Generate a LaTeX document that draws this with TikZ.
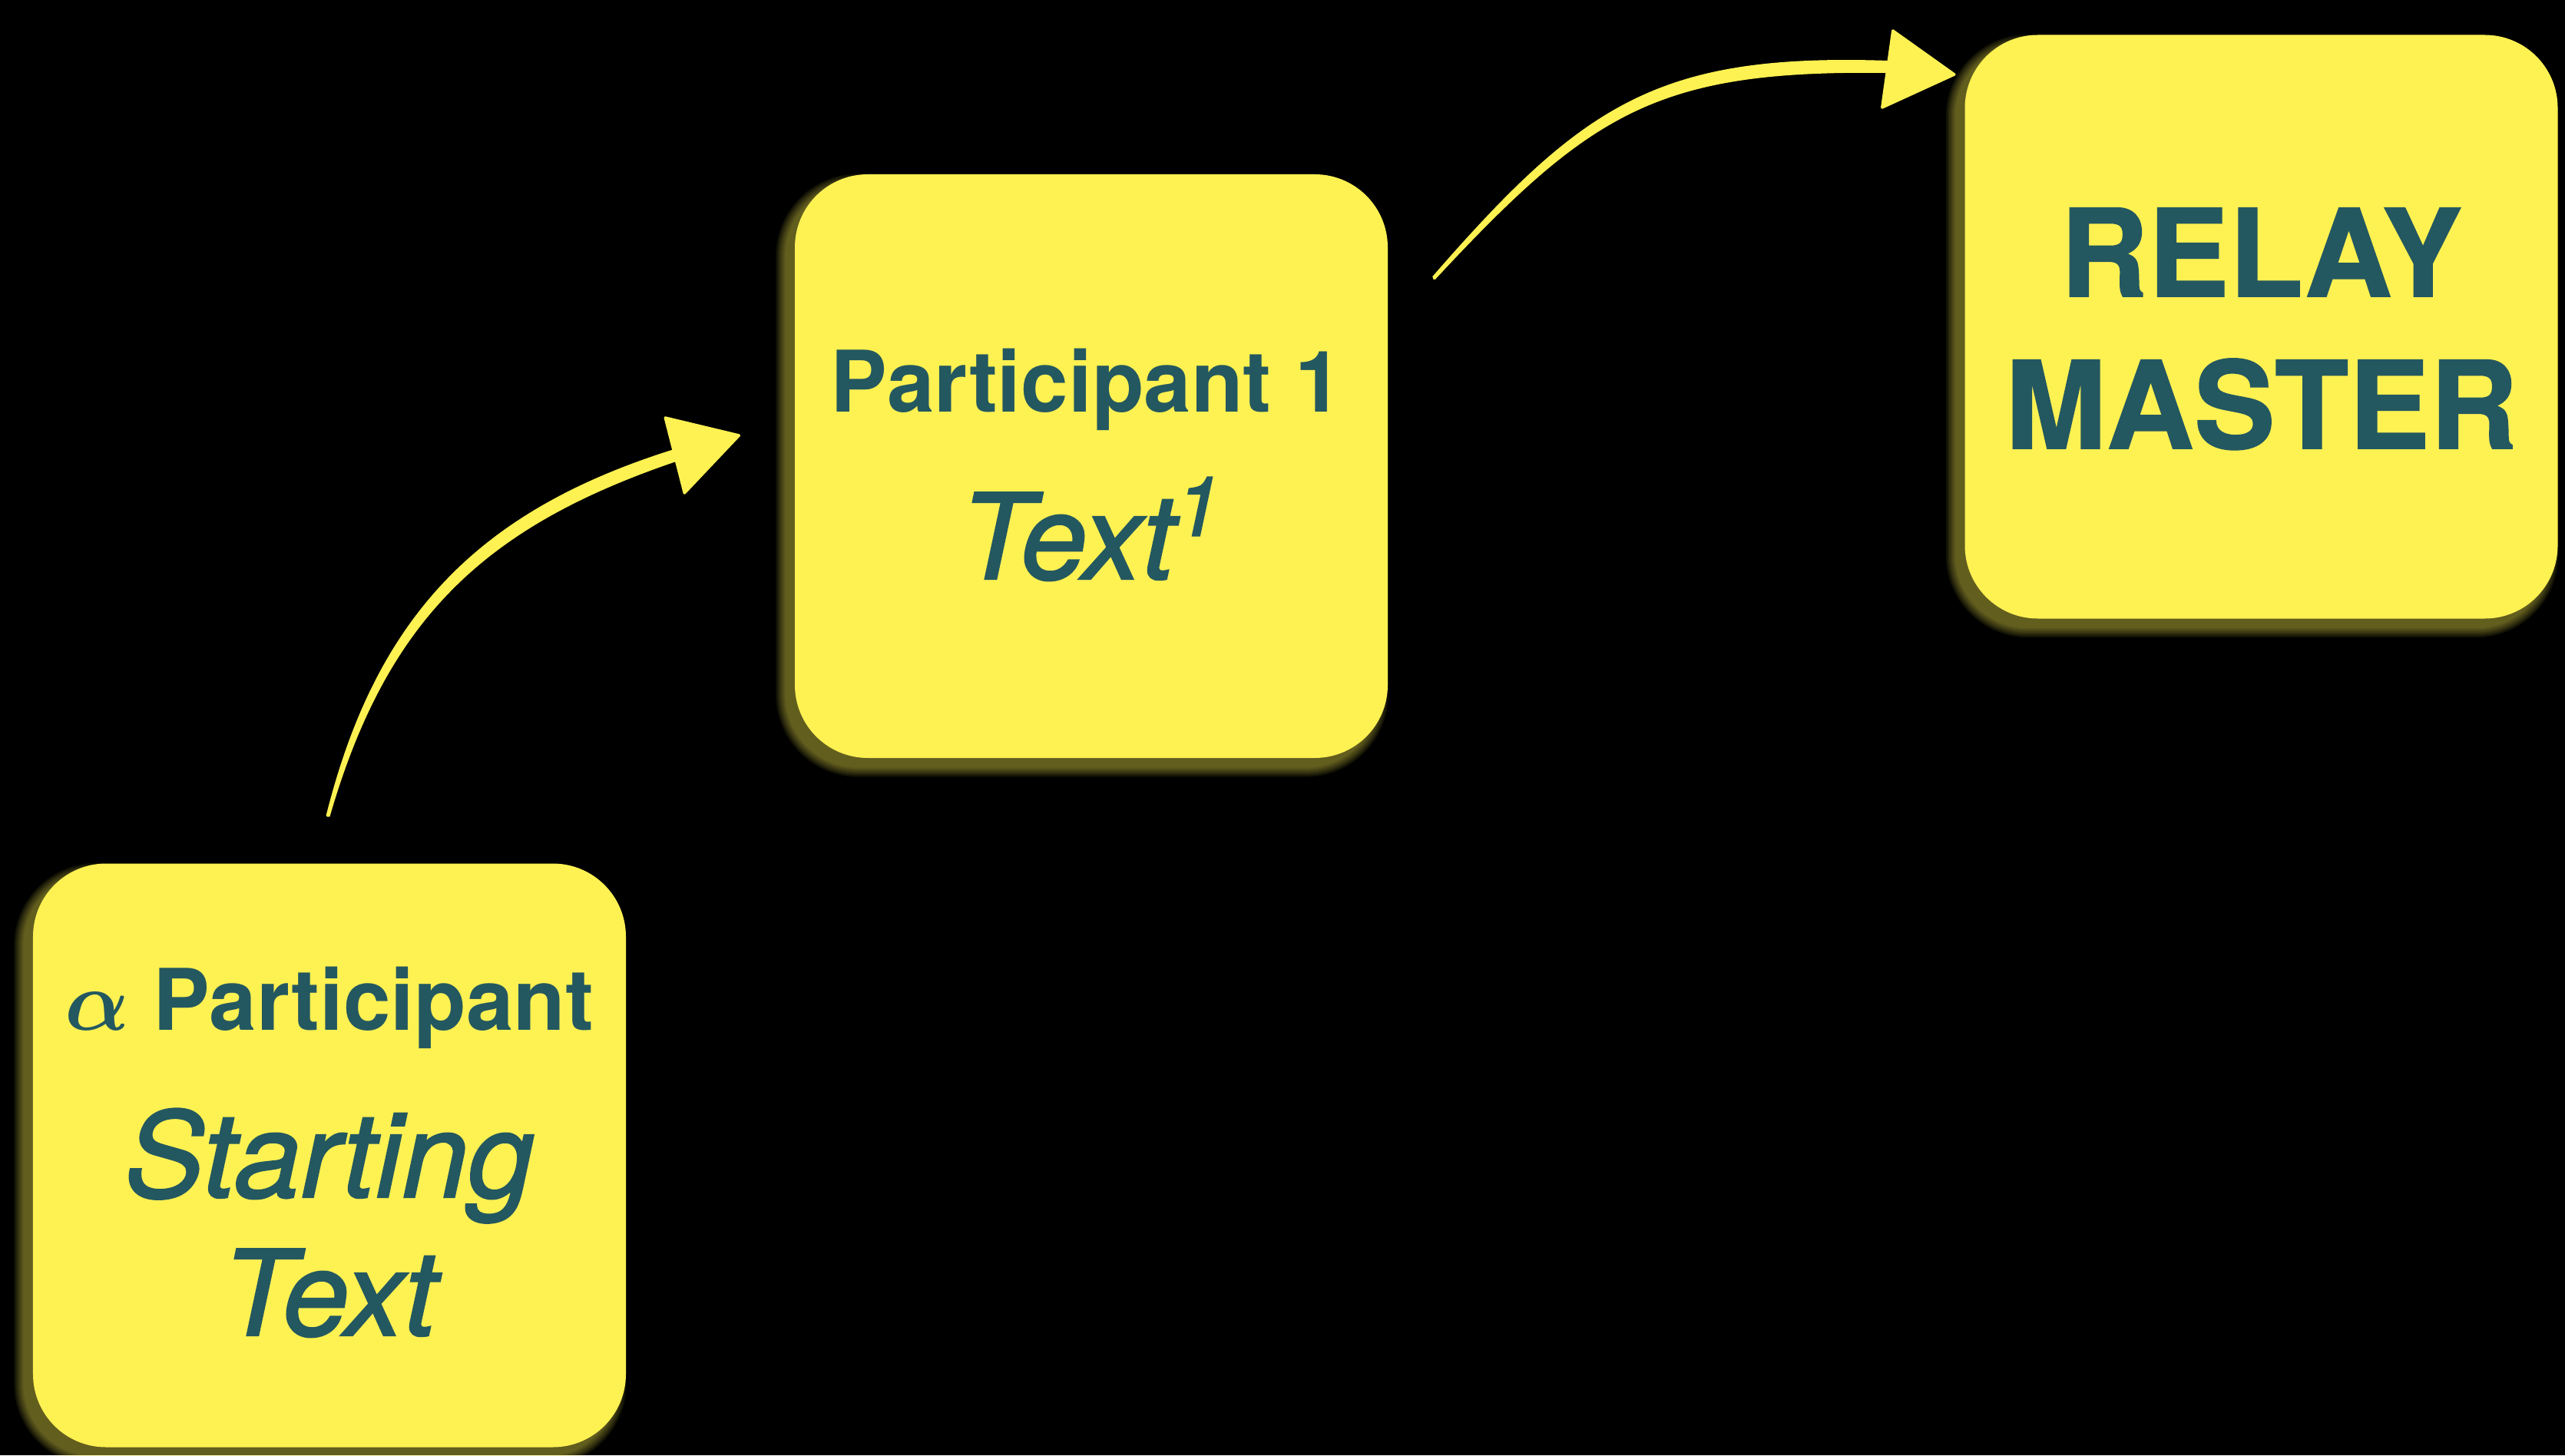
\documentclass[tikz,border=0pt]{standalone}
\usepackage{fix-cm}
\usepackage{bm}
\usepackage{fontspec}
\setmainfont{TeX Gyre Heros}
\newfontfamily\obliquefont{TeX Gyre Heros}[FakeBold=1.5]
\newfontfamily\heavyfont{TeX Gyre Heros}[FakeBold=1.0]
\usetikzlibrary{calc}

\definecolor{stickyyellow}{RGB}{254,241,82}
\definecolor{inkteal}{RGB}{36,88,96}

\pgfdeclarelayer{backdrop}
\pgfdeclarelayer{glow}
\pgfsetlayers{backdrop,glow,main}

\tikzset{
  card/.style={fill=stickyyellow, rounded corners=0.95cm,
    minimum width=7.72cm, minimum height=7.6cm, inner sep=0pt},
  headline/.style={text=inkteal, anchor=base, inner sep=0pt,
    font=\fontsize{31.5}{36}\selectfont\bfseries},
  slanted/.style={text=inkteal, anchor=base, inner sep=0pt,
    font=\fontsize{44}{50}\obliquefont\itshape},
  bigline/.style={text=inkteal, anchor=base, inner sep=0pt,
    font=\fontsize{45}{52}\heavyfont\bfseries},
  chalk/.style={draw=stickyyellow, line width=0.04cm, line cap=round},
  chalkbody/.style={fill=stickyyellow},
  chalkhead/.style={fill=stickyyellow, draw=stickyyellow, line width=1pt,
    line join=round},
}

% soft yellow glow cast down and to the left of a card
\newcommand\glowcard[1]{%
  \begin{pgfonlayer}{glow}
    \foreach \k in {0,...,6}{
      \fill[stickyyellow, opacity=0.07, rounded corners={0.95cm+\k*0.02cm}]
        ($(#1.south west)+(-0.12cm-\k*0.02cm,-0.12cm-\k*0.02cm)$) rectangle
        ($(#1.north east)+(-0.12cm+\k*0.02cm,-0.12cm+\k*0.02cm)$);
    }
  \end{pgfonlayer}}

\begin{document}
\begin{tikzpicture}
  \useasboundingbox (0,0) rectangle (33.4,18.95);
  \begin{pgfonlayer}{backdrop}
    \fill[black] (0,0) rectangle (33.4,18.95);
  \end{pgfonlayer}

  % cards
  \node[card] (start) at (4.29,3.905) {};
  \node[card] (first) at (14.21,12.88) {};
  \node[card] (relay) at (29.445,14.695) {};
  \glowcard{start}
  \glowcard{first}
  \glowcard{relay}

  % card texts
  \node[headline] (startname) at ($(start.center)+(0,1.635)$) {$\bm{\alpha}$ Participant};
  \node[slanted] (startline1) at ($(start.center)+(0,-0.545)$) {Starting};
  \node[slanted] (startline2) at ($(start.center)+(0,-2.345)$) {Text};

  \node[headline] (firstname) at ($(first.center)+(-0.06,0.70)$) {Participant 1};
  \node[slanted] (firsttext) at ($(first.center)+(0,-1.47)$) {Text\textsuperscript{1}};

  \node[bigline] (relayline1) at ($(relay.center)+(0,0.395)$) {RELAY};
  \node[bigline] (relayline2) at ($(relay.center)+(0,-1.585)$) {MASTER};

  % chalk arrow: start -> first, stroke with a tapered body over it
  \coordinate (c1s) at ($(start.north)+(-0.02,0.62)$);
  \coordinate (c1e) at ($(first.west)+(-1.56,0.14)$);
  \draw[chalk] (c1s) .. controls (4.97,10.92) and (6.28,12.20) .. (c1e);
  \fill[chalkbody] (4.246,8.327) .. controls (4.898,10.940) and (6.246,12.305) .. (8.765,13.096)
    -- (8.815,12.944) .. controls (6.314,12.095) and (5.042,10.900) .. (4.294,8.314) -- cycle;
  \filldraw[chalkhead] ($(c1e)+(-0.12,0.49)$) -- ($(c1e)+(0.84,0.26)$)
    -- ($(c1e)+(0.13,-0.49)$) -- cycle;

  % chalk arrow: first -> relay
  \coordinate (c2s) at ($(first.east)+(0.60,2.45)$);
  \coordinate (c2e) at ($(relay.west)+(-1.01,3.385)$);
  \draw[chalk] (c2s) .. controls (20.67,17.55) and (21.59,18.15) .. (c2e);
  \fill[chalkbody] (18.651,15.347) .. controls (20.614,17.600) and (21.593,18.260) .. (24.582,18.160)
    -- (24.578,18.000) .. controls (21.587,18.040) and (20.726,17.500) .. (18.689,15.313) -- cycle;
  \filldraw[chalkhead] ($(c2e)+(0.08,0.47)$) -- ($(c2e)+(0.88,-0.10)$)
    -- ($(c2e)+(-0.06,-0.53)$) -- cycle;
\end{tikzpicture}
\end{document}
